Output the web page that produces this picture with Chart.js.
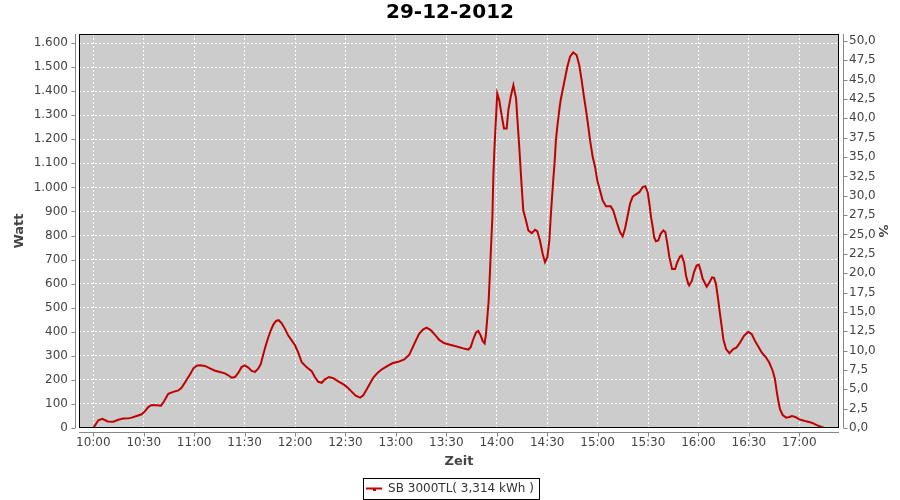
<!DOCTYPE html>
<html>
<head>
<meta charset="utf-8">
<script src="https://cdn.jsdelivr.net/npm/chart.js@4"></script>
<style>
  body { margin: 0; background: #fff; }
  canvas { display: block; }
</style>
</head>
<body>
<canvas id="powerChart" width="900" height="500"></canvas>
<script>
// time of day in minutes since midnight
const minutes = [
    600.0, 603.0, 605.4, 608.6, 611.9, 614.9, 617.8, 620.8, 622.8, 625.8,
    628.8, 630.8, 632.7, 634.7, 637.7, 640.3, 642.2, 644.6, 647.6, 650.6,
    652.6, 655.0, 657.5, 659.6, 661.5, 663.5, 666.4, 669.4, 672.4, 675.4,
    678.3, 680.3, 682.3, 684.3, 686.3, 688.3, 690.2, 692.2, 694.2, 696.2,
    698.2, 699.6, 701.1, 702.7, 704.1, 705.5, 707.1, 708.7, 710.3, 712.1,
    714.0, 716.0, 718.0, 720.0, 722.0, 724.0, 727.0, 729.9, 731.9, 733.8,
    735.9, 737.8, 740.2, 742.8, 745.7, 749.3, 751.7, 754.1, 756.1, 758.7,
    760.6, 762.6, 764.6, 766.6, 769.2, 771.9, 775.1, 777.9, 781.4, 785.0,
    788.0, 790.0, 792.0, 793.9, 796.3, 798.3, 800.7, 803.3, 805.8, 808.6,
    812.2, 816.2, 820.1, 823.1, 824.5, 826.1, 827.7, 829.0, 830.5, 831.6,
    832.8, 833.6, 834.4, 835.2, 836.0, 836.6, 837.4, 838.0, 838.5, 839.1,
    839.6, 840.3, 841.5, 842.9, 844.3, 845.9, 846.9, 848.3, 849.9, 851.5,
    852.2, 853.4, 854.6, 855.8, 857.4, 858.8, 860.8, 862.8, 864.1, 865.7,
    867.3, 868.7, 870.1, 871.3, 872.1, 872.9, 873.6, 874.5, 875.2, 876.0,
    877.2, 878.0, 879.6, 880.8, 882.0, 883.6, 885.5, 887.5, 889.1, 890.5,
    891.9, 893.1, 894.5, 895.5, 897.1, 898.5, 899.8, 901.4, 903.0, 905.0,
    907.8, 909.3, 911.4, 913.3, 914.9, 916.3, 917.7, 919.3, 920.9, 922.8,
    924.8, 926.8, 928.4, 929.8, 930.8, 931.8, 932.8, 933.6, 934.7, 936.1,
    937.5, 939.1, 940.3, 941.5, 942.7, 944.3, 946.1, 947.4, 949.0, 950.0,
    951.4, 952.6, 953.9, 954.5, 956.1, 957.3, 958.9, 960.2, 961.3, 962.5,
    964.9, 966.5, 968.1, 969.3, 970.4, 971.8, 972.8, 973.9, 974.8, 976.4,
    978.4, 980.7, 982.7, 984.7, 987.1, 989.6, 991.7, 993.6, 995.6, 997.6,
    1000.2, 1002.1, 1004.2, 1005.5, 1006.5, 1007.5, 1008.5, 1010.1, 1012.1, 1014.1,
    1015.6, 1017.6, 1020.0, 1023.4, 1027.4, 1030.4, 1033.3, 1034.7
];

// inverter output in Watt
const watts = [
    0, 32, 38, 27, 26, 34, 39, 40, 43, 50,
    57, 70, 87, 96, 95, 93, 112, 142, 150, 156,
    168, 194, 222, 248, 259, 261, 258, 248, 238, 233,
    227, 219, 209, 212, 230, 254, 260, 251, 237, 233,
    248, 265, 305, 346, 376, 404, 430, 445, 448, 435,
    412, 384, 364, 344, 312, 273, 252, 236, 211, 192,
    188, 202, 212, 207, 194, 179, 165, 148, 134, 126,
    136, 160, 185, 210, 230, 245, 258, 269, 275, 285,
    305, 335, 365, 392, 410, 417, 407, 387, 366, 353,
    346, 339, 331, 326, 336, 370, 397, 403, 384, 362,
    352, 390, 460, 529, 654, 751, 876, 1050, 1140, 1230,
    1293, 1390, 1362, 1300, 1245, 1245, 1321, 1376, 1425, 1370,
    1293, 1168, 1029, 904, 862, 821, 810, 824, 818, 779,
    724, 689, 710, 779, 876, 960, 1029, 1112, 1196, 1251,
    1321, 1362, 1418, 1460, 1501, 1543, 1561, 1550, 1508, 1446,
    1376, 1321, 1251, 1196, 1126, 1085, 1029, 988, 946, 922,
    922, 904, 855, 814, 796, 828, 876, 932, 962, 971,
    980, 1001, 1005, 980, 932, 876, 835, 793, 776, 779,
    807, 821, 814, 765, 710, 661, 661, 689, 712, 717,
    689, 633, 599, 592, 612, 647, 675, 679, 654, 620,
    587, 605, 626, 624, 599, 529, 474, 418, 369, 328,
    311, 328, 335, 355, 383, 400, 390, 362, 339, 314,
    293, 272, 237, 203, 154, 112, 78, 54, 43, 46,
    50, 46, 36, 29, 22, 12, 4, 0
];

const timeTicks = ['10:00', '10:30', '11:00', '11:30', '12:00', '12:30', '13:00', '13:30',
    '14:00', '14:30', '15:00', '15:30', '16:00', '16:30', '17:00'];
const wattTicks = [0, 100, 200, 300, 400, 500, 600, 700, 800, 900, 1000, 1100, 1200, 1300, 1400, 1500, 1600];
const percentTicks = [0, 2.5, 5, 7.5, 10, 12.5, 15, 17.5, 20, 22.5, 25, 27.5, 30, 32.5, 35, 37.5, 40, 42.5, 45, 47.5, 50];

const seriesLabel = 'SB 3000TL( 3,314 kWh )';
const chartTitle = '29-12-2012';

const FONT = 'DejaVu Sans';
const lineColor = '#c00000';

function toMinutes(t) {
    const [h, m] = t.split(':').map(Number);
    return h * 60 + m;
}

function formatThousands(v) {
    return String(v).replace(/\B(?=(\d{3})+(?!\d))/g, '.');
}

// grey plot background, black frame, and the detached grey axis lines with tick marks
const plotDecor = {
    id: 'plotDecor',
    beforeDraw(chart) {
        const { ctx, chartArea: a } = chart;
        ctx.save();
        ctx.fillStyle = '#cccccc';
        ctx.fillRect(a.left, a.top, a.right - a.left, a.bottom - a.top);
        ctx.restore();
    },
    afterDraw(chart) {
        const { ctx, chartArea: a, scales } = chart;
        ctx.save();
        ctx.strokeStyle = '#000';
        ctx.lineWidth = 1;
        ctx.strokeRect(a.left + 0.5, a.top + 0.5, a.right - a.left - 1, a.bottom - a.top - 1);

        ctx.strokeStyle = '#888';
        ctx.beginPath();
        const lx = a.left - 3.5;
        ctx.moveTo(lx, a.top); ctx.lineTo(lx, a.bottom);
        scales.y.ticks.forEach(t => {
            const py = Math.round(scales.y.getPixelForValue(t.value)) + 0.5;
            ctx.moveTo(lx - 4, py); ctx.lineTo(lx, py);
        });
        const rx = a.right + 4.5;
        ctx.moveTo(rx, a.top); ctx.lineTo(rx, a.bottom);
        scales.y2.ticks.forEach(t => {
            const py = Math.round(scales.y2.getPixelForValue(t.value)) + 0.5;
            ctx.moveTo(rx, py); ctx.lineTo(rx + 4, py);
        });
        const by = a.bottom + 4.5;
        ctx.moveTo(a.left, by); ctx.lineTo(a.right, by);
        scales.x.ticks.forEach(t => {
            const px = Math.round(scales.x.getPixelForValue(t.value)) + 0.5;
            ctx.moveTo(px, by); ctx.lineTo(px, by + 4);
        });
        ctx.stroke();

        // frame around the legend entry, with the little marker on the legend line
        const hb = chart.legend && chart.legend.legendHitBoxes && chart.legend.legendHitBoxes[0];
        if (hb) {
            ctx.strokeStyle = '#000';
            ctx.strokeRect(Math.round(hb.left - 3) + 0.5, Math.round(hb.top - 5) + 0.5,
                Math.round(hb.width + 8), Math.round(hb.height + 9));
            ctx.fillStyle = lineColor;
            ctx.fillRect(Math.round(hb.left + 7), Math.round(hb.top + hb.height / 2) - 1, 3, 3);
        }
        ctx.restore();
    }
};

const ctx = document.getElementById('powerChart').getContext('2d');

const powerChart = new Chart(ctx, {
    type: 'line',
    data: {
        datasets: [{
            label: seriesLabel,
            data: minutes.map((m, i) => ({ x: m, y: watts[i] })),
            borderColor: lineColor,
            backgroundColor: lineColor,
            borderWidth: 2,
            pointRadius: 0,
            tension: 0,
            yAxisID: 'y'
        }]
    },
    options: {
        responsive: false,
        animation: false,
        devicePixelRatio: 1,
        // the legend keeps some fixed space under its text; pull it down a bit
        layout: { padding: { top: 0, left: 0, right: 0, bottom: -4.5 } },
        plugins: {
            title: {
                display: true,
                text: chartTitle,
                color: '#000',
                font: { family: FONT, size: 20, weight: 'bold' },
                padding: { top: 1, bottom: 9 }
            },
            legend: {
                position: 'bottom',
                labels: {
                    color: '#333',
                    font: { family: FONT, size: 12 },
                    boxWidth: 16,
                    boxHeight: 2,
                    padding: 2.5,
                    generateLabels(chart) {
                        return Chart.defaults.plugins.legend.labels.generateLabels(chart)
                            .map(item => Object.assign(item, { lineWidth: 0, fillStyle: lineColor }));
                    }
                }
            },
            tooltip: { enabled: false }
        },
        scales: {
            x: {
                type: 'linear',
                min: 591.5,
                max: 1043.6,
                afterBuildTicks(axis) {
                    axis.ticks = timeTicks.map(t => ({ value: toMinutes(t) }));
                },
                afterFit(axis) { axis.height = 52; },
                ticks: {
                    autoSkip: false,
                    maxRotation: 0,
                    padding: 8,
                    color: '#444',
                    font: { family: FONT, size: 12 },
                    callback: (v, i) => timeTicks[i]
                },
                grid: { color: '#fff', lineWidth: 1, drawTicks: false },
                border: { display: false, dash: [2, 2] },
                title: {
                    display: true,
                    text: 'Zeit',
                    color: '#444',
                    font: { family: FONT, size: 13, weight: 'bold' },
                    padding: { top: 0, bottom: 11 }
                }
            },
            y: {
                position: 'left',
                min: 0,
                max: 1637.5,
                afterBuildTicks(axis) {
                    axis.ticks = wattTicks.map(v => ({ value: v }));
                },
                afterFit(axis) { axis.width = 79; },
                ticks: {
                    padding: 11,
                    color: '#444',
                    font: { family: FONT, size: 12 },
                    callback: v => formatThousands(v)
                },
                grid: { color: '#fff', lineWidth: 1, drawTicks: false },
                border: { display: false, dash: [2, 2] },
                title: {
                    display: true,
                    text: 'Watt',
                    color: '#444',
                    font: { family: FONT, size: 13, weight: 'bold' },
                    padding: { top: 12, bottom: 0 }
                }
            },
            y2: {
                position: 'right',
                min: 0,
                max: 50.9,
                afterBuildTicks(axis) {
                    axis.ticks = percentTicks.map(v => ({ value: v }));
                },
                afterFit(axis) { axis.width = 61; },
                ticks: {
                    padding: 10,
                    color: '#444',
                    font: { family: FONT, size: 12 },
                    callback: v => v.toFixed(1).replace('.', ',')
                },
                grid: { display: false, drawTicks: false },
                border: { display: false },
                title: {
                    display: true,
                    text: '%',
                    color: '#444',
                    font: { family: FONT, size: 13, weight: 'bold' },
                    padding: { top: 10, bottom: 0 }
                }
            }
        }
    },
    plugins: [plotDecor]
});
</script>
</body>
</html>
